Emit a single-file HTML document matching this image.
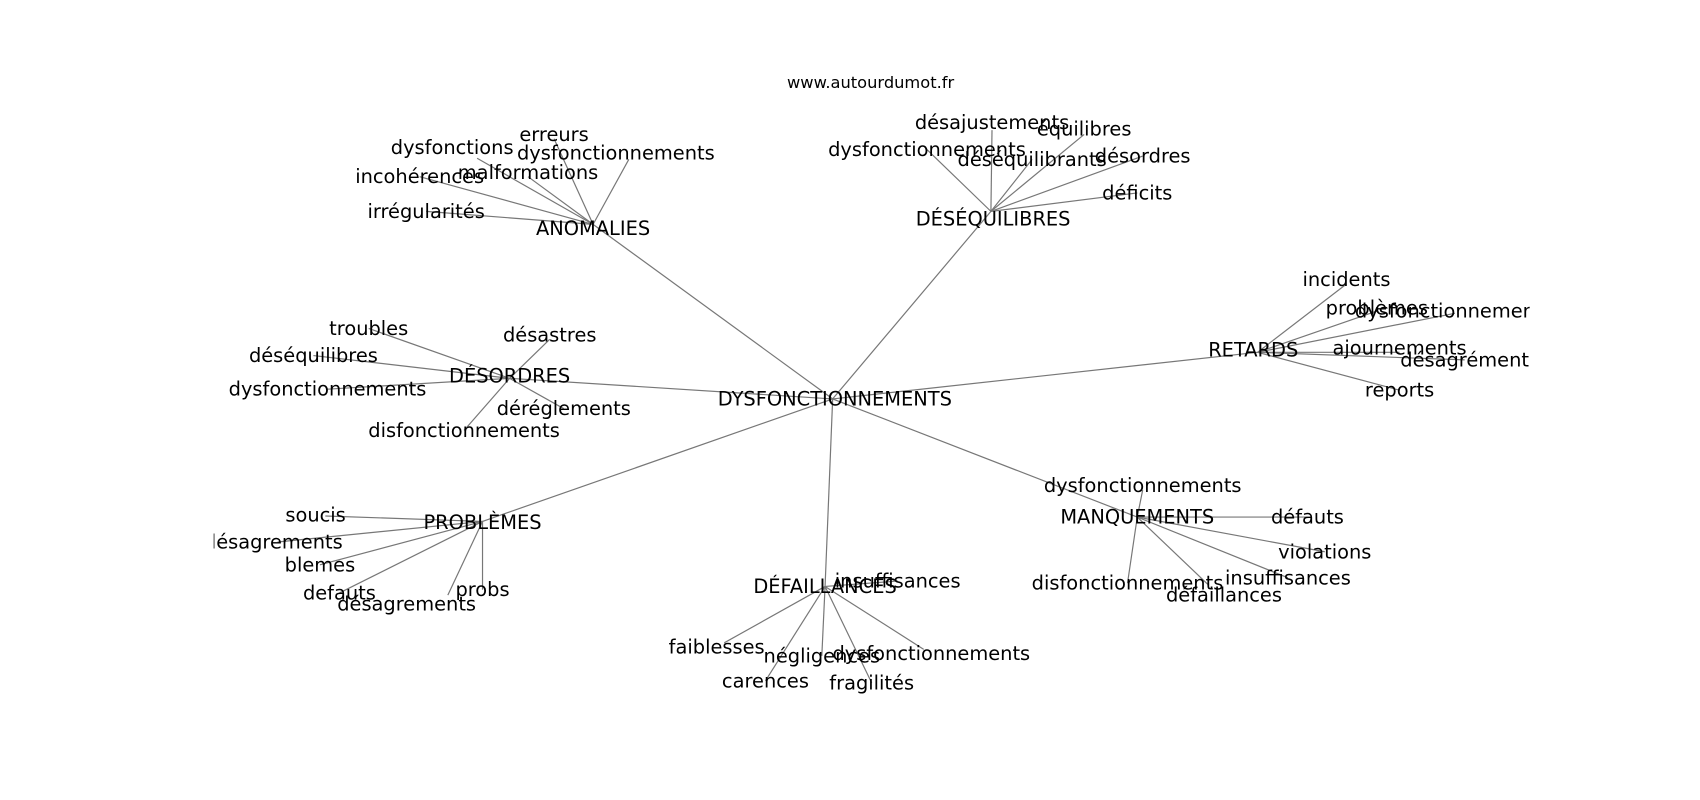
<!DOCTYPE html>
<html><head><meta charset="utf-8"><style>
html,body{margin:0;padding:0;background:#fff;width:1700px;height:800px;overflow:hidden}
svg text{font-family:"DejaVu Sans","Liberation Sans",sans-serif;fill:#000}
</style></head><body>
<svg width="1700" height="800" viewBox="0 0 1568 738" xmlns="http://www.w3.org/2000/svg">
<defs><clipPath id="c"><rect x="197" y="0" width="1214" height="738"/></clipPath></defs>
<text x="803" y="76" font-size="15" text-anchor="middle" dominant-baseline="central">www.autourdumot.fr</text>
<g stroke="#777" stroke-width="1.1" fill="none">
<line x1="768" y1="368" x2="547" y2="207"/>
<line x1="768" y1="368" x2="914" y2="195"/>
<line x1="768" y1="368" x2="1160" y2="325"/>
<line x1="768" y1="368" x2="470" y2="349"/>
<line x1="768" y1="368" x2="445" y2="481"/>
<line x1="768" y1="368" x2="761" y2="541"/>
<line x1="768" y1="368" x2="1049" y2="477"/>
<line x1="547" y1="207" x2="440" y2="146"/><line x1="547" y1="207" x2="511" y2="128"/><line x1="547" y1="207" x2="580" y2="147"/><line x1="547" y1="207" x2="487" y2="163"/><line x1="547" y1="207" x2="387" y2="163"/><line x1="547" y1="207" x2="393" y2="195"/>
<line x1="914" y1="195" x2="915" y2="120"/><line x1="914" y1="195" x2="1000" y2="124"/><line x1="914" y1="195" x2="855" y2="138"/><line x1="914" y1="195" x2="952" y2="147"/><line x1="914" y1="195" x2="1054" y2="144"/><line x1="914" y1="195" x2="1049" y2="178"/>
<line x1="1160" y1="325" x2="1242" y2="262"/><line x1="1160" y1="325" x2="1270" y2="287"/><line x1="1160" y1="325" x2="1342" y2="289"/><line x1="1160" y1="325" x2="1291" y2="325"/><line x1="1160" y1="325" x2="1351" y2="332"/><line x1="1160" y1="325" x2="1291" y2="360"/>
<line x1="470" y1="349" x2="340" y2="303"/><line x1="470" y1="349" x2="507" y2="313"/><line x1="470" y1="349" x2="289" y2="328"/><line x1="470" y1="349" x2="302" y2="359"/><line x1="470" y1="349" x2="520" y2="377"/><line x1="470" y1="349" x2="428" y2="397"/>
<line x1="445" y1="481" x2="300" y2="476"/><line x1="445" y1="481" x2="256" y2="500"/><line x1="445" y1="481" x2="295" y2="521"/><line x1="445" y1="481" x2="313" y2="547"/><line x1="445" y1="481" x2="413" y2="549"/><line x1="445" y1="481" x2="445" y2="544"/>
<line x1="761" y1="541" x2="828" y2="536"/><line x1="761" y1="541" x2="668" y2="593"/><line x1="761" y1="541" x2="758" y2="605"/><line x1="761" y1="541" x2="852" y2="599"/><line x1="761" y1="541" x2="706" y2="628"/><line x1="761" y1="541" x2="804" y2="630"/>
<line x1="1049" y1="477" x2="1054" y2="452"/><line x1="1049" y1="477" x2="1206" y2="477"/><line x1="1049" y1="477" x2="1222" y2="509"/><line x1="1049" y1="477" x2="1188" y2="533"/><line x1="1049" y1="477" x2="1040" y2="538"/><line x1="1049" y1="477" x2="1115" y2="540"/>
</g>
<g font-size="17.9" text-anchor="middle" dominant-baseline="central" clip-path="url(#c)">
<text x="770" y="368">DYSFONCTIONNEMENTS</text>
<text x="547" y="211">ANOMALIES</text>
<text x="417" y="136">dysfonctions</text><text x="511" y="124">erreurs</text><text x="568" y="141">dysfonctionnements</text><text x="487" y="159">malformations</text><text x="387" y="163">incohérences</text><text x="393" y="195">irrégularités</text>
<text x="916" y="202">DÉSÉQUILIBRES</text>
<text x="915" y="113">désajustements</text><text x="1000" y="119">équilibres</text><text x="855" y="138">dysfonctionnements</text><text x="952" y="147">déséquilibrants</text><text x="1054" y="144">désordres</text><text x="1049" y="178">déficits</text>
<text x="1156" y="323">RETARDS</text>
<text x="1242" y="258">incidents</text><text x="1270" y="284">problèmes</text><text x="1341" y="287">dysfonctionnements</text><text x="1291" y="321">ajournements</text><text x="1351" y="332">désagrément</text><text x="1291" y="360">reports</text>
<text x="470" y="347">DÉSORDRES</text>
<text x="340" y="303">troubles</text><text x="507" y="309">désastres</text><text x="289" y="328">déséquilibres</text><text x="302" y="359">dysfonctionnements</text><text x="520" y="377">déréglements</text><text x="428" y="397">disfonctionnements</text>
<text x="445" y="482">PROBLÈMES</text>
<text x="291" y="475">soucis</text><text x="252" y="500">désagrements</text><text x="295" y="521">blemes</text><text x="313" y="547">defauts</text><text x="375" y="557">désagrements</text><text x="445" y="544">probs</text>
<text x="761" y="541">DÉFAILLANCES</text>
<text x="828" y="536">insuffisances</text><text x="661" y="597">faiblesses</text><text x="758" y="605">négligences</text><text x="859" y="603">dysfonctionnements</text><text x="706" y="628">carences</text><text x="804" y="630">fragilités</text>
<text x="1049" y="477">MANQUEMENTS</text>
<text x="1054" y="448">dysfonctionnements</text><text x="1206" y="477">défauts</text><text x="1222" y="509">violations</text><text x="1188" y="533">insuffisances</text><text x="1040" y="538">disfonctionnements</text><text x="1129" y="549">défaillances</text>
</g>
</svg>
</body></html>
